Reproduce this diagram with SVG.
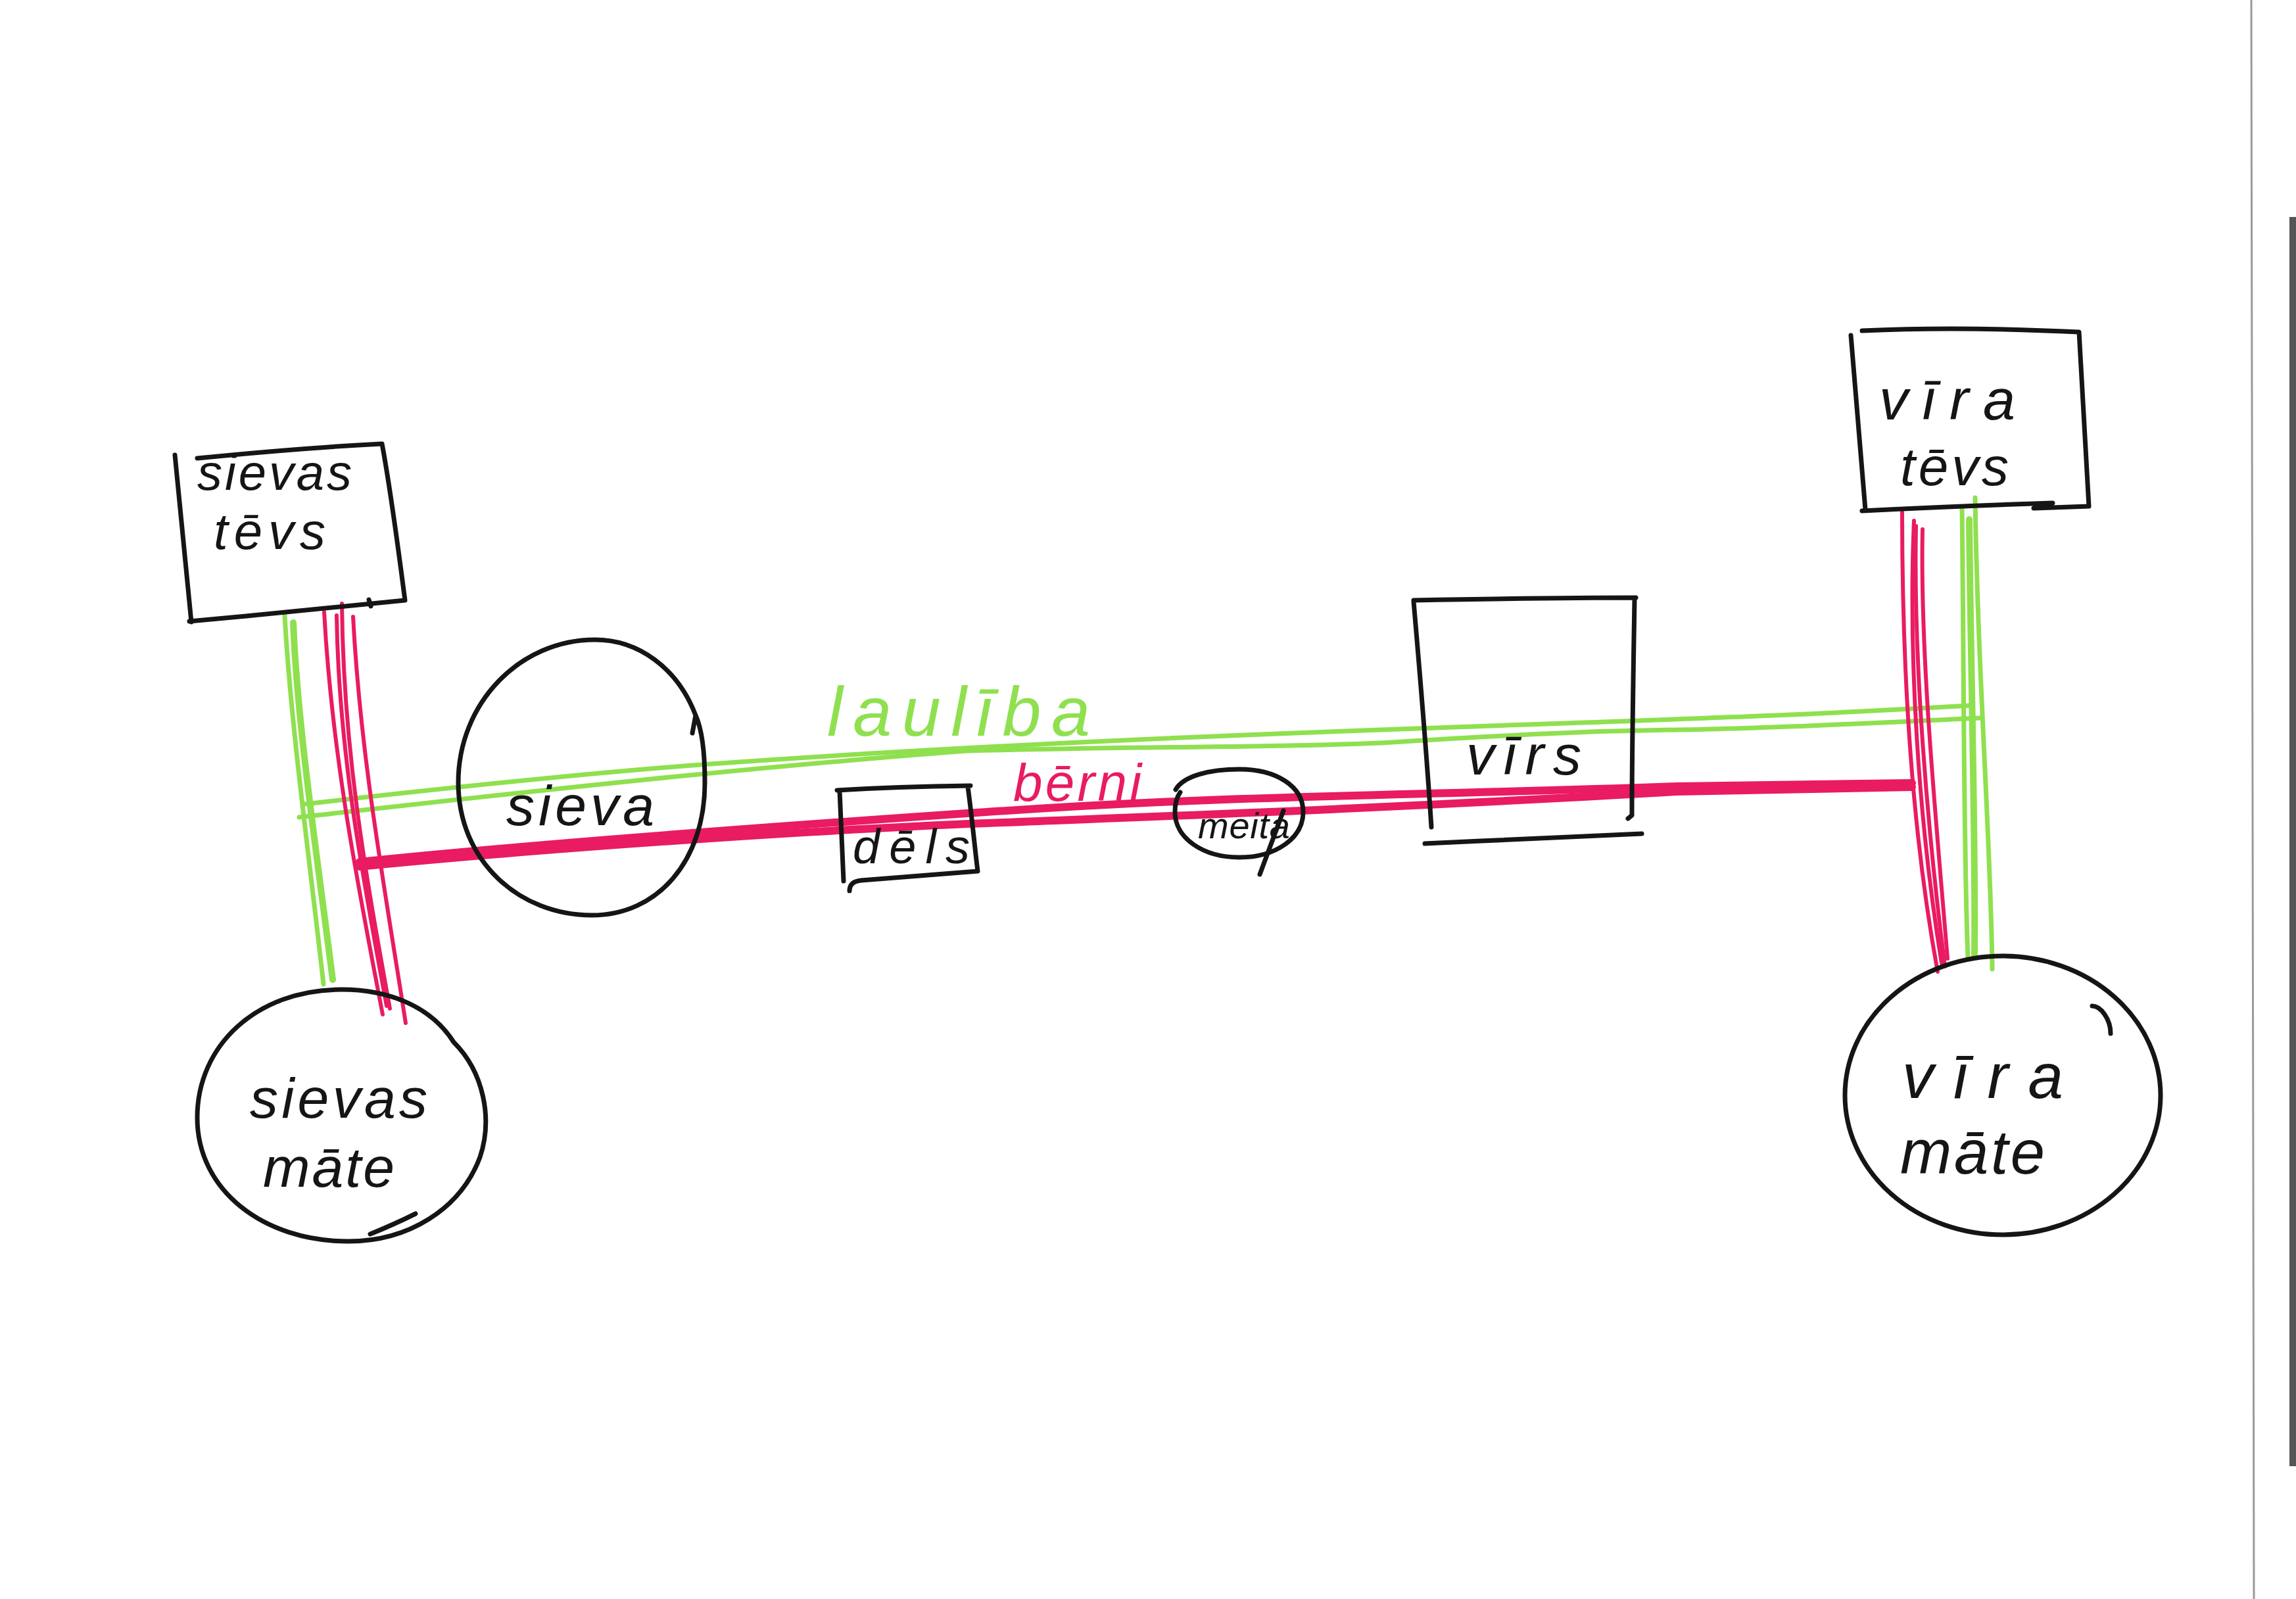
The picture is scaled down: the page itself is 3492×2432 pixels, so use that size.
<svg xmlns="http://www.w3.org/2000/svg" width="3492" height="2432" viewBox="0 0 3492 2432">
<style>
.ink{fill:none;stroke:#151515;stroke-width:7;stroke-linecap:round;stroke-linejoin:round}
.g{fill:none;stroke:#8fe04f;stroke-width:7;stroke-linecap:round;stroke-linejoin:round}
.gt{fill:none;stroke:#8fe04f;stroke-width:10;stroke-linecap:round}
.p{fill:none;stroke:#e91b62;stroke-width:6;stroke-linecap:round;stroke-linejoin:round}
.pt{fill:none;stroke:#e91b62;stroke-width:12;stroke-linecap:round;stroke-linejoin:round}
.t{font-family:"Liberation Sans",Arial,sans-serif;font-style:italic;font-size:86px;fill:#151515}
.lg{font-family:"Liberation Sans",Arial,sans-serif;font-style:italic;font-size:106px;fill:#8fe04f}
.lp{font-family:"Liberation Sans",Arial,sans-serif;font-style:italic;font-size:80px;fill:#e91b62}
</style>
<rect x="0" y="0" width="3492" height="2432" fill="#ffffff"/>
<line x1="3424" y1="0" x2="3428" y2="2432" stroke="#9a9a9a" stroke-width="3"/>
<rect x="3482" y="330" width="10" height="1900" fill="#555"/>

<g id="connectors">
  <!-- laulība (green) horizontal -->
  <path class="g" d="M463,1223 C700,1196 900,1175 1080,1162 S1600,1128 2100,1110 S2700,1090 2997,1073"/>
  <path class="g" d="M455,1243 C750,1210 1100,1170 1470,1142 C1800,1134 1900,1138 2100,1130 C2300,1118 2400,1112 2550,1110 S2900,1097 3013,1092"/>
  <!-- bērni (pink) horizontal -->
  <path class="pt" d="M547,1311 C800,1285 1100,1262 1500,1235 S2100,1212 2550,1196 L2908,1191"/>
  <path class="pt" d="M547,1318 C800,1293 1200,1264 1500,1252 S2100,1230 2550,1204 L2908,1197"/>
  <!-- left verticals -->
  <path class="g" d="M433,936 C442,1100 470,1300 492,1497"/>
  <path class="gt" d="M446,947 C452,1100 482,1300 506,1490"/>
  <path class="p" d="M493,931 C505,1150 545,1350 582,1543"/>
  <path class="p" d="M512,936 C515,1150 555,1350 588,1530"/>
  <path class="p" d="M520,918 C522,1150 560,1350 593,1534"/>
  <path class="p" d="M537,938 C548,1150 585,1350 617,1556"/>
  <!-- right verticals -->
  <path class="p" d="M2893,779 C2893,1000 2905,1250 2947,1478"/>
  <path class="p" d="M2911,792 C2902,1000 2918,1250 2953,1465"/>
  <path class="p" d="M2914,800 C2910,1000 2930,1250 2958,1470"/>
  <path class="p" d="M2924,805 C2920,1000 2945,1250 2962,1458"/>
  <path class="g" d="M2984,773 C2987,1000 2986,1280 2993,1457"/>
  <path class="gt" d="M2995,790 C2997,1000 3005,1280 3003,1455"/>
  <path class="g" d="M3004,757 C3008,1030 3028,1280 3030,1474"/>
  <text class="lg" x="1258" y="1119" textLength="400" lengthAdjust="spacing">laulība</text>
  <text class="lp" x="1541" y="1218" textLength="195" lengthAdjust="spacing">bērni</text>
</g>

<g id="n-sievas-tevs">
  <path class="ink" d="M266,692 L291,946 M288,945 C400,935 520,922 616,913 M616,913 C605,830 595,750 581,675 C480,680 390,688 300,697 M561,912 L564,922"/>
  <text class="t" x="300" y="745" textLength="235" lengthAdjust="spacing" style="font-size:76px">sievas</text>
  <text class="t" x="325" y="835" textLength="170" lengthAdjust="spacing" style="font-size:78px">tēvs</text>
</g>

<g id="n-vira-tevs">
  <path class="ink" d="M2815,510 L2837,775 M2832,503 C2940,498 3060,500 3162,505 C3168,600 3172,690 3177,770 M2832,777 C2930,772 3030,768 3122,765 M3093,773 L3177,770"/>
  <text class="t" x="2858" y="638" textLength="207" lengthAdjust="spacing" style="font-size:88px">vīra</text>
  <text class="t" x="2890" y="738" textLength="165" lengthAdjust="spacing" style="font-size:82px">tēvs</text>
</g>

<g id="n-sievas-mate">
  <path class="ink" d="M690,1585 C655,1530 590,1505 520,1505 C390,1505 300,1590 300,1700 C300,1810 400,1888 530,1888 C620,1888 700,1840 730,1760 C750,1700 735,1630 690,1585 Z M563,1877 C590,1866 610,1857 632,1846"/>
  <text class="t" x="380" y="1700" textLength="270" lengthAdjust="spacing">sievas</text>
  <text class="t" x="400" y="1805" textLength="200" lengthAdjust="spacing">māte</text>
</g>

<g id="n-vira-mate">
  <ellipse class="ink" cx="3046" cy="1666" rx="240" ry="212"/>
  <path class="ink" d="M3182,1530 C3195,1530 3210,1550 3210,1572"/>
  <text class="t" x="2893" y="1670" textLength="245" lengthAdjust="spacing" style="font-size:96px">vīra</text>
  <text class="t" x="2890" y="1785" textLength="220" lengthAdjust="spacing" style="font-size:94px">māte</text>
</g>

<g id="n-sieva">
  <path class="ink" d="M1058,1088 C1030,1015 970,973 905,973 C790,973 697,1070 697,1190 C697,1310 790,1392 900,1392 C1000,1392 1072,1310 1072,1190 C1072,1150 1068,1110 1058,1088 L1053,1115"/>
  <text class="t" x="770" y="1255" textLength="225" lengthAdjust="spacing">sieva</text>
</g>

<g id="n-dels">
  <path class="ink" d="M1273,1202 C1340,1198 1410,1196 1476,1195 M1277,1203 L1283,1340 M1472,1197 C1478,1240 1482,1285 1487,1325 M1292,1355 C1292,1345 1298,1340 1310,1339 C1370,1334 1430,1329 1487,1325"/>
  <text class="t" x="1297" y="1313" textLength="178" lengthAdjust="spacing" style="font-size:74px">dēls</text>
</g>

<g id="n-meita">
  <path class="ink" d="M1788,1201 C1800,1180 1840,1170 1885,1170 C1940,1170 1982,1195 1982,1235 C1982,1275 1940,1304 1885,1304 C1830,1304 1787,1275 1787,1235 C1787,1222 1790,1212 1795,1205 M1952,1233 L1916,1330"/>
  <text class="t" x="1822" y="1275" textLength="140" lengthAdjust="spacing" style="font-size:56px">meita</text>
</g>

<g id="n-virs">
  <path class="ink" d="M2150,913 C2260,911 2380,909 2488,909 M2150,915 C2160,1030 2170,1150 2177,1258 M2486,912 C2484,1030 2482,1140 2482,1240 L2476,1245 M2167,1283 C2280,1278 2400,1272 2497,1268"/>
  <text class="t" x="2230" y="1178" textLength="175" lengthAdjust="spacing">vīrs</text>
</g>
</svg>
